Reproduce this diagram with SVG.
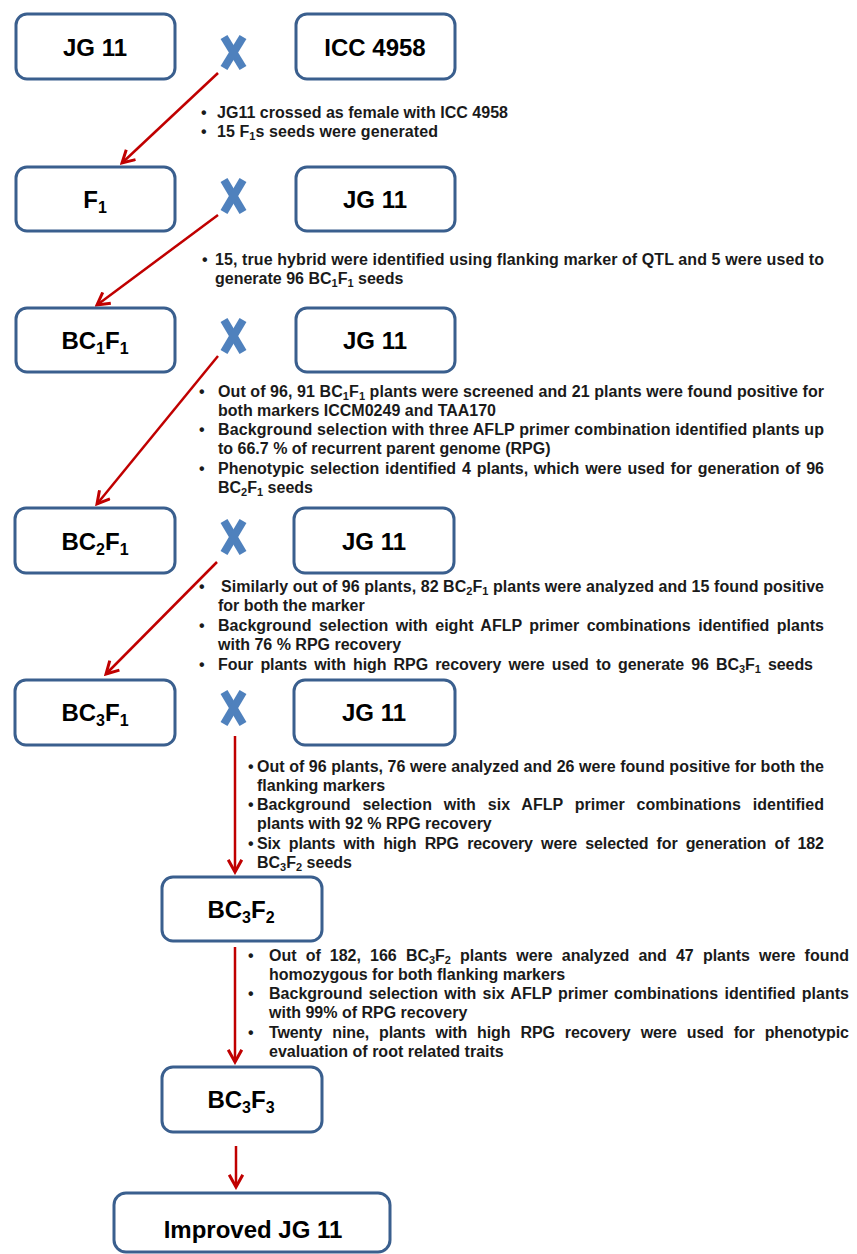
<svg xmlns="http://www.w3.org/2000/svg" width="857" height="1254" viewBox="0 0 857 1254">
<style>
.box{fill:#fff;stroke:#3A5F8E;stroke-width:3}
.lbl{font-family:"Liberation Sans",Arial,sans-serif;font-weight:bold;font-size:24px;fill:#000;text-anchor:middle}
.sub{font-size:16px}
.t{font-family:"Liberation Sans",Arial,sans-serif;font-weight:bold;font-size:16px;fill:#1a1a1a}
.ts{font-size:11px}
.x{stroke:#4F81BD;stroke-width:8;stroke-linecap:butt}
.arr{stroke:#C00000;stroke-width:2.5;fill:none;marker-end:url(#ah)}
</style>
<defs>
<marker id="ah" viewBox="0 0 12 12" refX="10" refY="6" markerWidth="6.5" markerHeight="6.5" orient="auto" markerUnits="strokeWidth">
<path d="M1,1 L10,6 L1,11" fill="none" stroke="#C00000" stroke-width="2.2"/>
</marker>
</defs>

<g id="connectors">
<line class="arr" x1="218" y1="73" x2="122" y2="163"/>
<line class="arr" x1="218" y1="215" x2="97" y2="305"/>
<line class="arr" x1="218" y1="356" x2="97" y2="504"/>
<line class="arr" x1="217" y1="562" x2="106" y2="674"/>
<line class="arr" x1="235" y1="736" x2="235" y2="872"/>
<line class="arr" x1="235" y1="947" x2="235" y2="1062"/>
<line class="arr" x1="236" y1="1146" x2="236" y2="1187"/>
</g>

<g id="cross-marks">
<g id="x1"><line class="x" x1="224" y1="37" x2="243" y2="68"/><line class="x" x1="243" y1="37" x2="224" y2="68"/></g>
<g id="x2"><line class="x" x1="224" y1="180" x2="243" y2="212"/><line class="x" x1="243" y1="180" x2="224" y2="212"/></g>
<g id="x3"><line class="x" x1="224" y1="320" x2="243" y2="352"/><line class="x" x1="243" y1="320" x2="224" y2="352"/></g>
<g id="x4"><line class="x" x1="224" y1="521" x2="243" y2="553"/><line class="x" x1="243" y1="521" x2="224" y2="553"/></g>
<g id="x5"><line class="x" x1="224" y1="692" x2="243" y2="724"/><line class="x" x1="243" y1="692" x2="224" y2="724"/></g>
</g>

<g id="n-jg11-p"><rect class="box" x="16" y="14" width="159" height="65" rx="11"/><text class="lbl" x="95" y="56">JG 11</text></g>
<g id="n-icc4958"><rect class="box" x="296" y="14" width="159" height="65" rx="11"/><text class="lbl" x="375" y="56">ICC  4958</text></g>

<g id="n-f1"><rect class="box" x="16" y="167" width="159" height="64" rx="11"/><text class="lbl" x="95" y="208">F<tspan class="sub" dy="5">1</tspan></text></g>
<g id="n-jg11-2"><rect class="box" x="296" y="167" width="159" height="64" rx="11"/><text class="lbl" x="375" y="208">JG 11</text></g>

<g id="n-bc1f1"><rect class="box" x="16" y="308" width="159" height="64" rx="11"/><text class="lbl" x="95" y="349">BC<tspan class="sub" dy="5">1</tspan><tspan dy="-5">F</tspan><tspan class="sub" dy="5">1</tspan></text></g>
<g id="n-jg11-3"><rect class="box" x="296" y="308" width="159" height="64" rx="11"/><text class="lbl" x="375" y="349">JG 11</text></g>

<g id="n-bc2f1"><rect class="box" x="15" y="508" width="160" height="65" rx="11"/><text class="lbl" x="95" y="550">BC<tspan class="sub" dy="5">2</tspan><tspan dy="-5">F</tspan><tspan class="sub" dy="5">1</tspan></text></g>
<g id="n-jg11-4"><rect class="box" x="294" y="508" width="160" height="65" rx="11"/><text class="lbl" x="374" y="550">JG 11</text></g>

<g id="n-bc3f1"><rect class="box" x="15" y="680" width="160" height="65" rx="11"/><text class="lbl" x="95" y="721">BC<tspan class="sub" dy="5">3</tspan><tspan dy="-5">F</tspan><tspan class="sub" dy="5">1</tspan></text></g>
<g id="n-jg11-5"><rect class="box" x="294" y="680" width="161" height="65" rx="11"/><text class="lbl" x="374" y="721">JG 11</text></g>

<g id="n-bc3f2"><rect class="box" x="162" y="877" width="160" height="64" rx="11"/><text class="lbl" x="241" y="918">BC<tspan class="sub" dy="5">3</tspan><tspan dy="-5">F</tspan><tspan class="sub" dy="5">2</tspan></text></g>
<g id="n-bc3f3"><rect class="box" x="162" y="1067" width="160" height="65" rx="11"/><text class="lbl" x="241" y="1108">BC<tspan class="sub" dy="5">3</tspan><tspan dy="-5">F</tspan><tspan class="sub" dy="5">3</tspan></text></g>
<g id="n-improved"><rect class="box" x="114" y="1193" width="276" height="59" rx="12"/><text class="lbl" x="253" y="1238">Improved JG 11</text></g>

<g id="notes-1" class="t">
<text x="201" y="118">•</text><text x="217" y="118" textLength="291" lengthAdjust="spacing">JG11 crossed  as female with ICC 4958</text>
<text x="201" y="137">•</text><text x="217" y="137" textLength="221" lengthAdjust="spacing">15 F<tspan class="ts" dy="3">1</tspan><tspan dy="-3">s seeds  were generated</tspan></text>
</g>

<g id="notes-2" class="t">
<text x="202" y="265">•</text><text x="215" y="265" textLength="609" lengthAdjust="spacing">15, true hybrid were identified using flanking marker of QTL and 5 were used to</text>
<text x="215" y="284">generate 96 BC<tspan class="ts" dy="3">1</tspan><tspan dy="-3">F</tspan><tspan class="ts" dy="3">1</tspan><tspan dy="-3"> seeds</tspan></text>
</g>

<g id="notes-3" class="t">
<text x="199" y="397">•</text><text x="218" y="397" textLength="606" lengthAdjust="spacing">Out of 96, 91 BC<tspan class="ts" dy="3">1</tspan><tspan dy="-3">F</tspan><tspan class="ts" dy="3">1</tspan><tspan dy="-3"> plants were screened and 21 plants were found positive for</tspan></text>
<text x="218" y="416">both markers ICCM0249  and TAA170</text>
<text x="199" y="435">•</text><text x="218" y="435" textLength="606" lengthAdjust="spacing">Background selection with three AFLP primer combination identified plants up</text>
<text x="218" y="454">to 66.7 % of recurrent parent genome (RPG)</text>
<text x="199" y="474">•</text><text x="218" y="474" textLength="606" lengthAdjust="spacing" style="word-spacing:1.4px">Phenotypic selection identified 4 plants, which were used for generation of 96</text>
<text x="218" y="493">BC<tspan class="ts" dy="3">2</tspan><tspan dy="-3">F</tspan><tspan class="ts" dy="3">1</tspan><tspan dy="-3"> seeds</tspan></text>
</g>

<g id="notes-4" class="t">
<text x="199" y="592">•</text><text x="221" y="592" textLength="603" lengthAdjust="spacing">Similarly out of 96 plants, 82 BC<tspan class="ts" dy="3">2</tspan><tspan dy="-3">F</tspan><tspan class="ts" dy="3">1</tspan><tspan dy="-3"> plants were analyzed and 15 found positive</tspan></text>
<text x="218" y="611">for both the marker</text>
<text x="199" y="631">•</text><text x="218" y="631" textLength="606" lengthAdjust="spacing" style="word-spacing:3px">Background selection with eight AFLP primer combinations identified plants</text>
<text x="218" y="650">with 76 % RPG recovery</text>
<text x="199" y="670">•</text><text x="218" y="670" textLength="595" lengthAdjust="spacing" style="word-spacing:2.8px">Four plants with high RPG recovery were used to generate 96 BC<tspan class="ts" dy="3">3</tspan><tspan dy="-3">F</tspan><tspan class="ts" dy="3">1</tspan><tspan dy="-3"> seeds</tspan></text>
</g>

<g id="notes-5" class="t">
<text x="248" y="772">•</text><text x="257" y="772" textLength="567" lengthAdjust="spacing">Out of 96 plants, 76 were analyzed and 26 were found positive for both the</text>
<text x="257" y="791">flanking markers</text>
<text x="248" y="810">•</text><text x="257" y="810" textLength="567" lengthAdjust="spacing" style="word-spacing:7.4px">Background selection with six AFLP primer combinations identified</text>
<text x="257" y="829">plants with 92 %  RPG recovery</text>
<text x="248" y="849">•</text><text x="257" y="849" textLength="567" lengthAdjust="spacing" style="word-spacing:3.9px">Six plants with high RPG recovery were selected for generation of 182</text>
<text x="257" y="868">BC<tspan class="ts" dy="3">3</tspan><tspan dy="-3">F</tspan><tspan class="ts" dy="3">2</tspan><tspan dy="-3"> seeds</tspan></text>
</g>

<g id="notes-6" class="t">
<text x="248" y="961">•</text><text x="269" y="961" textLength="580" lengthAdjust="spacing" style="word-spacing:4.7px">Out of 182, 166 BC<tspan class="ts" dy="3">3</tspan><tspan dy="-3">F</tspan><tspan class="ts" dy="3">2</tspan><tspan dy="-3"> plants were analyzed and 47 plants were found</tspan></text>
<text x="269" y="980">homozygous for both flanking markers</text>
<text x="248" y="999">•</text><text x="269" y="999" textLength="580" lengthAdjust="spacing" style="word-spacing:1.7px">Background selection with six AFLP primer combinations identified plants</text>
<text x="269" y="1018">with 99% of RPG recovery</text>
<text x="248" y="1038">•</text><text x="269" y="1038" textLength="580" lengthAdjust="spacing" style="word-spacing:5.7px">Twenty nine, plants with high RPG recovery were used for phenotypic</text>
<text x="269" y="1057">evaluation of root related traits</text>
</g>
</svg>
